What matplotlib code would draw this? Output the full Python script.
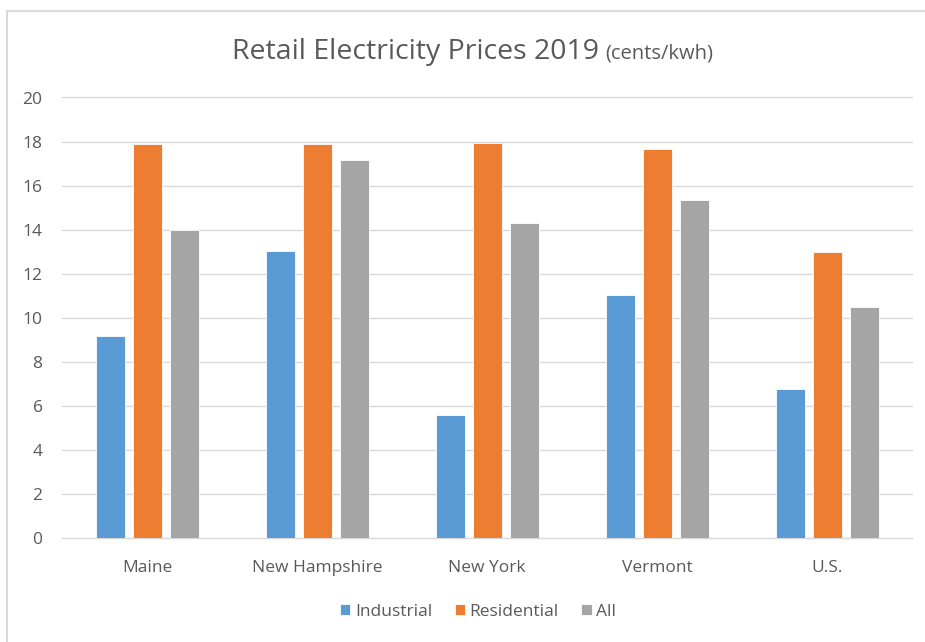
import matplotlib.pyplot as plt
import numpy as np
from matplotlib.patches import Rectangle

regions = ["Maine", "New Hampshire", "New York", "Vermont", "U.S."]
industrial = [9.18, 13.05, 5.58, 11.03, 6.77]
residential = [17.88, 17.9, 17.94, 17.68, 13.0]
all_sectors = [14.0, 17.14, 14.32, 15.35, 10.5]

series = [
    ("Industrial", industrial, "#5B9BD5"),
    ("Residential", residential, "#ED7D31"),
    ("All", all_sectors, "#A5A5A5"),
]

TEXT = "#595959"
GRID = "#D9D9D9"

plt.rcParams["font.family"] = ["Open Sans", "DejaVu Sans"]

fig = plt.figure(figsize=(9.25, 6.42), dpi=100)
ax = fig.add_axes([62 / 925, 104 / 642, 850 / 925, 440.5 / 642])

x = np.arange(len(regions))
width = 29 / 170
step = 37 / 170
for i, (name, values, color) in enumerate(series):
    ax.bar(x + (i - 1) * step, values, width, color=color, label=name,
           edgecolor="white", linewidth=0.6, zorder=3)

ax.set_xlim(-0.5, len(regions) - 0.5)
ax.set_ylim(0, 20)
ax.set_yticks(range(0, 21, 2))
ax.set_xticks(x, regions)
ax.grid(axis="y", color=GRID, linewidth=1, zorder=0)
for line in ax.get_ygridlines():
    line.set_clip_on(False)
for side in ("top", "right", "left"):
    ax.spines[side].set_visible(False)
ax.spines["bottom"].set_color(GRID)
ax.tick_params(axis="both", length=0, colors=TEXT, labelsize=12.5)
ax.tick_params(axis="y", pad=14)
ax.tick_params(axis="x", pad=16)

# title: main part plus smaller unit note
fig.text(599 / 925, 1 - 52 / 642, "Retail Electricity Prices 2019", ha="right",
         va="center", fontsize=20.5, color=TEXT)
fig.text(605 / 925, 1 - 54 / 642, "(cents/kwh)", ha="left", va="center",
         fontsize=14.5, color=TEXT)

fig.legend(loc="center", bbox_to_anchor=(478 / 925, 1 - 612 / 642), ncol=3,
           frameon=False, fontsize=12.5, labelcolor=TEXT, handlelength=0.6,
           handleheight=0.6, handletextpad=0.25, columnspacing=1.3)

# chart frame (cropped at right and bottom in the screenshot)
fig.add_artist(Rectangle((7 / 925, -0.1), 1.2, 1.1 - 11 / 642,
                         transform=fig.transFigure, fill=False,
                         edgecolor=GRID, linewidth=1.5))

fig.savefig("out.png", dpi=100)
